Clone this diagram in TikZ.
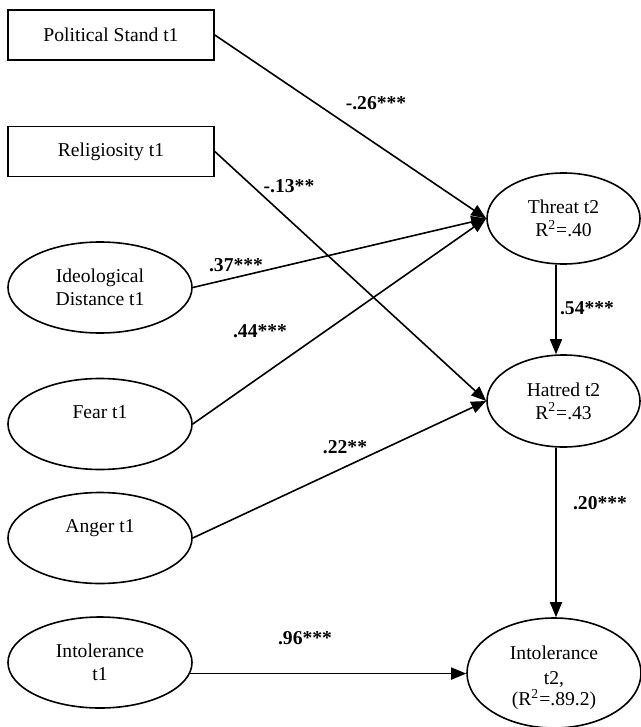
\documentclass[tikz,border=0pt]{standalone}
\usepackage{fontspec}
\setmainfont{Liberation Serif}
\usetikzlibrary{arrows.meta,shapes.geometric}
\begin{document}
\begin{tikzpicture}[x=0.5pt,y=-0.5pt,
  every node/.style={font=\fontsize{9.8}{11.5}\selectfont,align=center,inner sep=0pt},
  rectbox/.style={draw,line width=0.8pt,minimum width=103pt,minimum height=25pt},
  latent/.style={draw,ellipse,line width=0.8pt,minimum width=92pt,minimum height=45.5pt},
  link/.style={line width=0.8pt,-{Triangle[length=7.5pt,width=6pt]}},
  coef/.style={font=\fontsize{9.8}{11.5}\selectfont\bfseries}]
\useasboundingbox (0,0) rectangle (641,727);
% predictors at t1
\node[rectbox] (pol) at (111,35) {Political Stand t1};
\node[rectbox] (rel) at (111,151.5) {Religiosity t1};
\node[latent] (ideo) at (100,287.5) {Ideological\\Distance t1};
\node[latent,text depth=12pt] (fear) at (100,424) {Fear t1};
\node[latent,text depth=12pt] (anger) at (100,538) {Anger t1};
\node[latent] (intolA) at (100,662.5) {Intolerance\\t1};
% outcomes at t2
\node[latent,minimum width=76.5pt] (threat) at (563.5,218.5) {Threat t2\\R\textsuperscript{2}=.40};
\node[latent,minimum width=76.5pt,minimum height=46pt] (hatred) at (563.5,401) {Hatred t2\\R\textsuperscript{2}=.43};
\node[latent,minimum width=87pt,minimum height=55pt] (intolB) at (554,673)
  {\rule{0pt}{12pt}Intolerance\\[1pt]t2,\\[-1pt](R\textsuperscript{2}=.89.2)};
% paths
\draw[link] (pol.east) -- (threat.west);
\draw[link] (ideo.east) -- (threat.west);
\draw[link] (fear.east) -- (threat.west);
\draw[link] (rel.east) -- (hatred.west);
\draw[link] (anger.east) -- (hatred.west);
\draw[link] ([xshift=-3.75pt]threat.south) -- ([xshift=-3.75pt]hatred.north);
\draw[link] ([xshift=-3.75pt]hatred.south) -- ([xshift=1pt]intolB.north);
\draw[link] (intolA.-7) -- (intolA.-7 -| intolB.west);
% coefficients
\node[coef] (cpol) at (376,103) {-.26***};
\node[coef] (crel) at (289,186) {-.13**};
\node[coef] (cideo) at (236,265) {.37***};
\node[coef] (cfear) at (260,331) {.44***};
\node[coef] (canger) at (345,447) {.22**};
\node[coef] (cintol) at (305,638) {.96***};
\node[coef] (cthreat) at (587,308) {.54***};
\node[coef] (chatred) at (600,503) {.20***};
\end{tikzpicture}
\end{document}
